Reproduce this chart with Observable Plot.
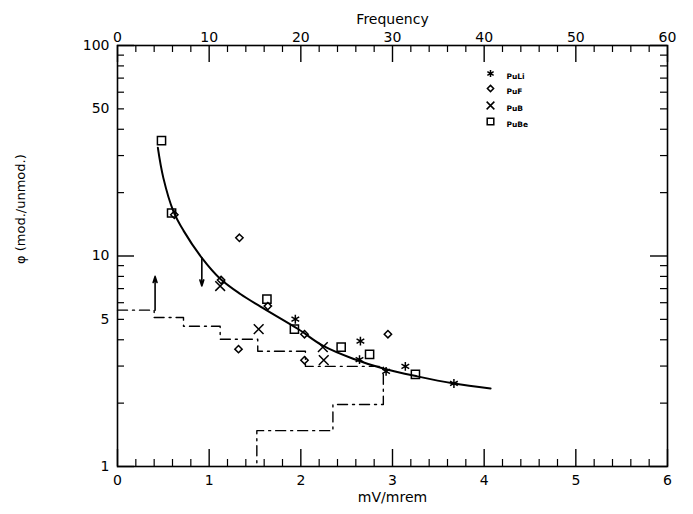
<!DOCTYPE html>
<html><head><meta charset="utf-8">
<script src="https://cdn.jsdelivr.net/npm/d3@7"></script>
<script src="https://cdn.jsdelivr.net/npm/@observablehq/plot@0.6"></script>
<style>body{margin:0;background:#fff}</style>
</head><body><div id="chart"></div>
<script>
// ---- data ----
const seriesNames = ["PuLi", "PuF", "PuB", "PuBe"];
const seriesSymbols = ["asterisk", "diamond2", "times", "square2"];

const puLiX = [1.94, 2.65, 2.64, 2.93, 3.14, 3.67];
const puLiY = [5.01, 3.94, 3.22, 2.83, 2.99, 2.48];

const puFX = [0.62, 1.33, 1.13, 1.64, 2.04, 2.95, 1.32, 2.04];
const puFY = [15.7, 12.2, 7.69, 5.78, 4.25, 4.25, 3.61, 3.20];

const puBX = [1.12, 1.54, 2.24, 2.25];
const puBY = [7.2, 4.49, 3.69, 3.20];

const puBeX = [0.48, 0.59, 1.63, 1.93, 2.44, 2.75, 3.25];
const puBeY = [35.3, 16.0, 6.24, 4.49, 3.69, 3.41, 2.74];

// fitted curve
const fitX = [0.44, 0.50, 0.61, 0.72, 0.92, 1.12, 1.34, 1.56, 1.97, 2.24, 2.57, 2.90, 3.27, 3.67, 4.07];
const fitY = [32.7, 23.5, 16.3, 13.2, 9.8, 7.8, 6.6, 5.75, 4.5, 3.75, 3.25, 2.92, 2.68, 2.48, 2.35];

// frequency histogram outline (step line), x in mV/mrem units (= frequency / 10)
const histX = [0, 0.40, 0.40, 0.72, 0.72, 1.12, 1.12, 1.53, 1.53, 2.05, 2.05, 2.90, 2.90, 2.35, 2.35, 1.52, 1.52];
const histY = [5.53, 5.53, 5.10, 5.10, 4.64, 4.64, 4.02, 4.02, 3.53, 3.53, 2.99, 2.99, 1.97, 1.97, 1.48, 1.48, 1.0];

// limit arrows
const arrowX = [0.41, 0.92];
const arrowY1 = [5.53, 9.8];
const arrowY2 = [8.0, 7.2];

// ticks
const xTicks = [0, 1, 2, 3, 4, 5, 6];
const xMinor = [0.2,0.4,0.6,0.8,1.2,1.4,1.6,1.8,2.2,2.4,2.6,2.8,3.2,3.4,3.6,3.8,4.2,4.4,4.6,4.8,5.2,5.4,5.6,5.8];
const freqTicks = [0, 10, 20, 30, 40, 50, 60];
const yLabelTicks = [1, 5, 10, 50, 100];
const yMajor = [1, 10, 100];
const yMinor = [2,3,4,5,6,7,8,9,20,30,40,50,60,70,80,90];

// ---- layout ----
const W = 693, H = 514, mL = 117, mR = 26, mT = 45, mB = 48;
const pw = W - mL - mR, ph = H - mT - mB;
const majLen = 17, minLen = 7;

const seriesData = [[puLiX, puLiY], [puFX, puFY], [puBX, puBY], [puBeX, puBeY]];
const dotR = [4.2, 3.3, 4.5, 5.2];
const legR = [3.4, 2.8, 3.6, 4.2];
const legDy = [28, 43, 60, 76];

const marks = [
  Plot.frame({stroke: "black", strokeWidth: 1.6}),
  // bottom ticks
  Plot.tickX(xTicks, {x: d => d, insetTop: ph - majLen, strokeWidth: 1.4}),
  Plot.tickX(xMinor, {x: d => d, insetTop: ph - minLen, strokeWidth: 1.2}),
  // top ticks
  Plot.tickX(xTicks, {x: d => d, insetBottom: ph - majLen, strokeWidth: 1.4}),
  Plot.tickX(xMinor, {x: d => d, insetBottom: ph - minLen, strokeWidth: 1.2}),
  // left ticks
  Plot.tickY(yMajor, {y: d => d, insetRight: pw - majLen, strokeWidth: 1.4}),
  Plot.tickY(yMinor, {y: d => d, insetRight: pw - minLen, strokeWidth: 1.2}),
  // right ticks
  Plot.tickY(yMajor, {y: d => d, insetLeft: pw - majLen, strokeWidth: 1.4}),
  Plot.tickY(yMinor, {y: d => d, insetLeft: pw - minLen, strokeWidth: 1.2}),
  // histogram
  Plot.line(histX, {x: histX, y: histY, stroke: "black", strokeWidth: 1.4, strokeDasharray: "10,5,2,5"}),
  // fitted curve
  Plot.line(fitX, {x: fitX, y: fitY, curve: "catmull-rom", stroke: "black", strokeWidth: 2}),
  // arrows
  Plot.arrow(arrowX, {x: arrowX, y1: arrowY1, y2: arrowY2, stroke: "black", strokeWidth: 1.6, headLength: 6, headAngle: 35}),
  // data points
  ...seriesData.map(([xs, ys], i) => Plot.dot(xs, {x: xs, y: ys, symbol: seriesSymbols[i], r: dotR[i], stroke: "black", fill: "none", strokeWidth: 1.5})),
  // legend
  ...seriesNames.flatMap((name, i) => [
    Plot.dot([name], {frameAnchor: "top-right", dx: -177, dy: legDy[i], symbol: seriesSymbols[i], r: legR[i], stroke: "black", fill: "none", strokeWidth: 1.5}),
    Plot.text([name], {frameAnchor: "top-right", dx: -161, dy: legDy[i], text: d => d, textAnchor: "start", fontSize: 7.5, fontWeight: "bold"})
  ]),
  // top frequency axis labels
  Plot.text(freqTicks, {x: d => d / 10, text: d => String(d), frameAnchor: "top", dy: -13, fontSize: 14}),
  Plot.text(["Frequency"], {frameAnchor: "top", dy: -31, text: d => d, fontSize: 14}),
  // bottom axis title
  Plot.text(["mV/mrem"], {frameAnchor: "bottom", dy: 35, text: d => d, fontSize: 14}),
  // y axis title
  Plot.text(["\u03c6 (mod./unmod.)"], {frameAnchor: "left", dx: -97, dy: 8, rotate: -90, text: d => d, fontSize: 13})
];

const chart = Plot.plot({
  width: W, height: H,
  marginLeft: mL, marginRight: mR, marginTop: mT, marginBottom: mB,
  style: {fontFamily: "DejaVu Sans", fontSize: "14px", background: "white", color: "black", overflow: "visible"},
  x: {domain: [0, 6], ticks: xTicks, tickSize: 0, tickPadding: 9, tickFormat: d => String(d), label: null},
  y: {type: "log", domain: [1, 100], ticks: yLabelTicks, tickSize: 0, tickPadding: 8, tickFormat: d => String(d), label: null},
  marks
});
document.getElementById("chart").appendChild(chart);
</script>
</body></html>
